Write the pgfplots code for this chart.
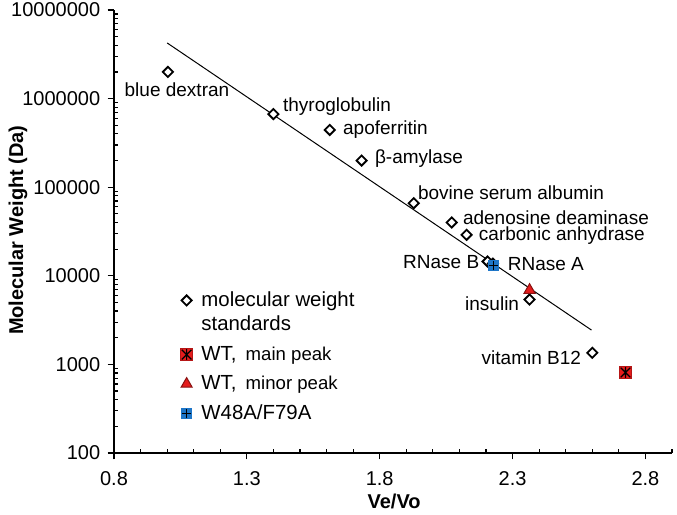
\documentclass[border=0pt]{standalone}
\usepackage{fontspec}
\setmainfont{Liberation Sans}
\usepackage{pgfplots}
\pgfplotsset{compat=1.18}
\usetikzlibrary{plotmarks}

\definecolor{wtred}{RGB}{228,28,28}
\definecolor{mutblue}{RGB}{30,118,200}

% red square with a black asterisk
\pgfdeclareplotmark{redstar}{%
  \pgfpathrectangle{\pgfqpoint{-\pgfplotmarksize}{-\pgfplotmarksize}}{\pgfqpoint{2\pgfplotmarksize}{2\pgfplotmarksize}}%
  \pgfsetfillcolor{wtred}\pgfsetstrokecolor{wtred!80!black}\pgfusepath{fill,stroke}%
  \pgfsetstrokecolor{black}\pgfsetlinewidth{0.6pt}%
  \pgfpathmoveto{\pgfqpoint{0pt}{-0.9\pgfplotmarksize}}\pgfpathlineto{\pgfqpoint{0pt}{0.9\pgfplotmarksize}}%
  \pgfpathmoveto{\pgfqpoint{-0.8\pgfplotmarksize}{-0.8\pgfplotmarksize}}\pgfpathlineto{\pgfqpoint{0.8\pgfplotmarksize}{0.8\pgfplotmarksize}}%
  \pgfpathmoveto{\pgfqpoint{-0.8\pgfplotmarksize}{0.8\pgfplotmarksize}}\pgfpathlineto{\pgfqpoint{0.8\pgfplotmarksize}{-0.8\pgfplotmarksize}}%
  \pgfusepath{stroke}}

% blue square with a black plus
\pgfdeclareplotmark{blueplus}{%
  \pgfpathrectangle{\pgfqpoint{-\pgfplotmarksize}{-\pgfplotmarksize}}{\pgfqpoint{2\pgfplotmarksize}{2\pgfplotmarksize}}%
  \pgfsetfillcolor{mutblue}\pgfsetstrokecolor{mutblue}\pgfusepath{fill,stroke}%
  \pgfsetstrokecolor{black}\pgfsetlinewidth{0.6pt}%
  \pgfpathmoveto{\pgfqpoint{0pt}{-0.9\pgfplotmarksize}}\pgfpathlineto{\pgfqpoint{0pt}{0.9\pgfplotmarksize}}%
  \pgfpathmoveto{\pgfqpoint{-0.9\pgfplotmarksize}{0pt}}\pgfpathlineto{\pgfqpoint{0.9\pgfplotmarksize}{0pt}}%
  \pgfusepath{stroke}}

\begin{document}
\begin{tikzpicture}
\useasboundingbox (-57pt,-31pt) rectangle (281.5pt,226.5pt);
\begin{axis}[
    scale only axis,
    width=279pt, height=221.5pt,
    ymode=log,
    xmin=0.8, xmax=2.9,
    ymin=100, ymax=1e7,
    axis x line*=bottom, axis y line*=left,
    axis line style={line width=0.7pt, -},
    xtick={0.8,1.3,1.8,2.3,2.8},
    xticklabels={0.8,1.3,1.8,2.3,2.8},
    minor xtick={0.9,1.0,1.1,1.2,1.4,1.5,1.6,1.7,1.9,2.0,2.1,2.2,2.4,2.5,2.6,2.7,2.9},
    ytick={100,1000,10000,100000,1000000,10000000},
    log ticks with fixed point,
    /pgf/number format/1000 sep={},
    minor ytick={200,300,400,500,600,700,800,900,2000,3000,4000,5000,6000,7000,8000,9000,
      20000,30000,40000,50000,60000,70000,80000,90000,200000,300000,400000,500000,600000,700000,800000,900000,
      2000000,3000000,4000000,5000000,6000000,7000000,8000000,9000000},
    tick align=outside,
    major tick length=3.2pt,
    minor tick length=2pt,
    every tick/.style={black, line width=0.6pt},
    minor x tick style={yshift=2pt},
    minor y tick style={xshift=2pt},
    ticklabel style={font=\fontsize{10}{12}\selectfont},
    yticklabel style={anchor=east, inner sep=0pt, xshift=-3.5pt},
    xticklabel style={anchor=north, inner sep=0pt, yshift=-6pt},
    /pgf/number format/assume math mode=true,
    every axis x label/.style={at={(axis description cs:0.502,0)}, yshift=-24pt, anchor=center},
    every axis y label/.style={at={(axis description cs:0,0.503)}, xshift=-48pt, rotate=90, anchor=center},
    xlabel={\textbf{Ve/Vo}},
    ylabel={\textbf{Molecular Weight (Da)}},
    label style={font=\fontsize{10}{12}\selectfont},
    legend style={at={(rel axis cs:0.118,0.375)}, anchor=north west, draw=none, fill=none,
      font=\fontsize{10.2}{12.3}\selectfont, cells={anchor=west, align=left}, row sep=2.2pt,
      inner sep=0pt},
    legend cell align=left,
    clip=false,
]

% calibration line
\addplot[black, line width=0.5pt, forget plot] coordinates {(1.0,4.25e6) (2.597,2440)};

% molecular weight standards
\addplot[only marks, mark=square*, mark size=1.8pt,
  mark options={rotate=45, fill=white, draw=black, line width=0.9pt},
  legend image post style={yshift=6pt}] coordinates {
  (1.003,2.0e6) (1.40,6.69e5) (1.612,4.43e5) (1.732,2.0e5) (1.928,6.6e4)
  (2.071,4.0e4) (2.127,2.9e4) (2.206,1.45e4) (2.226,1.37e4) (2.364,5.4e3) (2.60,1.35e3)
};
\addlegendentry{\hspace{2.2pt}molecular weight\\\hspace{2.2pt}standards}

% WT main peak
\addplot[only marks, mark=redstar, mark size=3pt] coordinates {(2.725,810)};
\addlegendentry{\hspace{2.2pt}WT,\hspace{0.45em}{\fontsize{9.3}{11}\selectfont main peak}}

% WT minor peak
\addplot[only marks, mark=triangle*, mark size=3.2pt,
  mark options={fill=wtred, draw=wtred!60!black, line width=0.5pt}] coordinates {(2.364,6.9e3)};
\addlegendentry{\hspace{2.2pt}WT,\hspace{0.45em}{\fontsize{9.3}{11}\selectfont minor peak}}

% W48A/F79A
\addplot[only marks, mark=blueplus, mark size=2.5pt] coordinates {(2.228,1.3e4)};
\addlegendentry{\hspace{2.2pt}W48A/F79A}

\begin{scope}[every node/.style={font=\fontsize{9.5}{11}\selectfont, inner sep=0pt}]
\node[anchor=center] at (axis cs:1.037,1.25e6) {blue dextran};
\node[anchor=west] at (axis cs:1.435,8.04e5) {thyroglobulin};
\node[anchor=west] at (axis cs:1.661,4.42e5) {apoferritin};
\node[anchor=west] at (axis cs:1.781,2.08e5) {β-amylase};
\node[anchor=west] at (axis cs:1.943,8.6e4) {bovine serum albumin};
\node[anchor=west] at (axis cs:2.112,4.49e4) {adenosine deaminase};
\node[anchor=west] at (axis cs:2.172,2.88e4) {carbonic anhydrase};
\node[anchor=east] at (axis cs:2.176,1.43e4) {RNase B};
\node[anchor=west] at (axis cs:2.281,1.36e4) {RNase A};
\node[anchor=east] at (axis cs:2.326,4.8e3) {insulin};
\node[anchor=east] at (axis cs:2.559,1.18e3) {vitamin B12};
\end{scope}
\end{axis}
\end{tikzpicture}
\end{document}
